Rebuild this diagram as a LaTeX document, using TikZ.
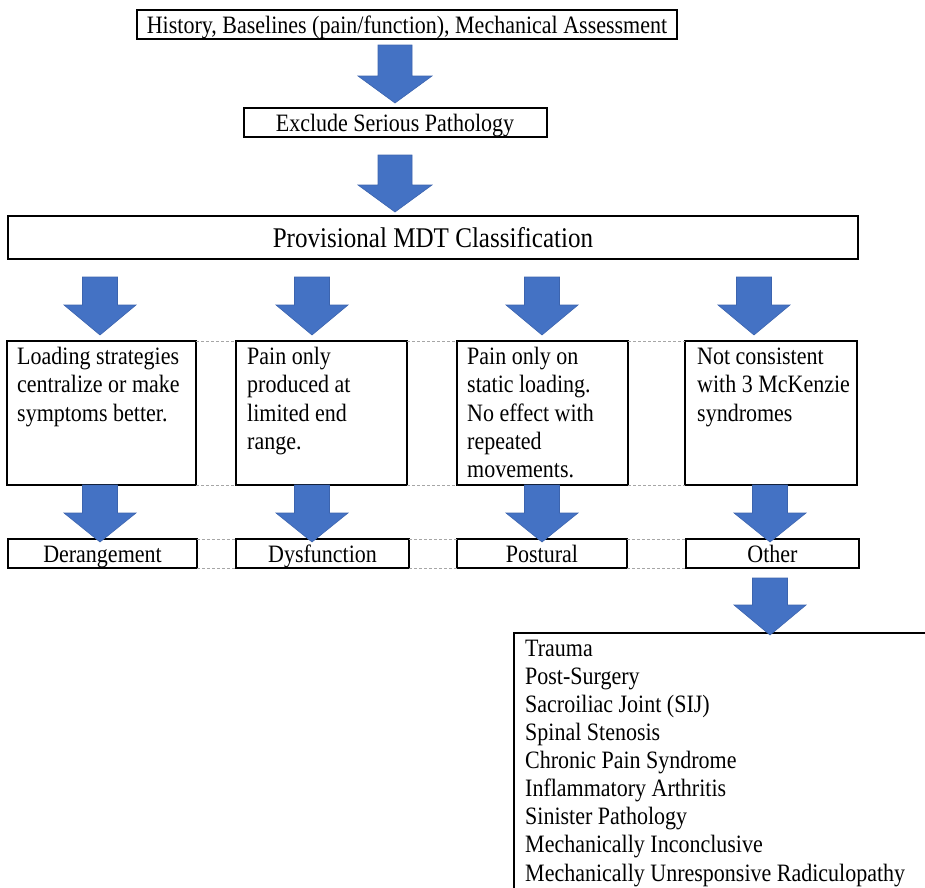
\documentclass[tikz,border=0pt]{standalone}
\usepackage{fontspec}
\setmainfont{Liberation Serif}[FakeStretch=0.88]
\definecolor{arrowblue}{HTML}{4472C4}
\definecolor{arrowedge}{HTML}{3C64AE}
\definecolor{dotgray}{HTML}{A6A6A6}
\newcommand\blockarr[6]{% cx, ytop, yhead, ytip, shaft half, head half
  \path[blockarrow] ({#1-#5},#2) -- ({#1+#5},#2) -- ({#1+#5},#3) -- ({#1+#6},#3)
    -- (#1,#4) -- ({#1-#6},#3) -- ({#1-#5},#3) -- cycle;}
\newcommand\firststrut{\rule{0pt}{18pt}}
\tikzset{
  box/.style={draw=black, line width=1.5pt, inner sep=0pt, outer sep=0pt, anchor=north west},
  txt/.style={inner sep=0pt, anchor=north west, align=left, font=\fontsize{25}{28.4}\selectfont},
  lst/.style={inner sep=0pt, anchor=north west, align=left, font=\fontsize{25}{28.1}\selectfont},
  lbl/.style={inner sep=0pt, anchor=base, font=\fontsize{25}{28.4}\selectfont},
  ttl/.style={inner sep=0pt, anchor=base, font=\fontsize{28.5}{32}\selectfont},
  sepline/.style={draw=dotgray, dash pattern=on 3pt off 2pt, line width=1pt},
  blockarrow/.style={fill=arrowblue, draw=arrowedge, line width=0.6pt, line join=miter}
}
\begin{document}
\begin{tikzpicture}[x=1pt,y=-1pt]
\useasboundingbox (0,0) rectangle (925,887);
\clip (0,0) rectangle (925,887);

% top boxes
\node[box, minimum width=540pt, minimum height=29pt] (hist) at (137,10) {};
\node[lbl] (histt) at (407,33) {History, Baselines (pain/function), Mechanical Assessment};
\node[box, minimum width=303pt, minimum height=29pt] (excl) at (244,108) {};
\node[lbl] (exclt) at (395,131) {Exclude Serious Pathology};
\node[box, minimum width=850pt, minimum height=43pt] (prov) at (8,216) {};
\node[ttl] (provt) at (433,247) {Provisional MDT Classification};

% description boxes
\node[box, minimum width=189pt, minimum height=144pt] (b1) at (7,341) {};
\node[box, minimum width=171pt, minimum height=144pt] (b2) at (236,341) {};
\node[box, minimum width=171pt, minimum height=144pt] (b3) at (457,341) {};
\node[box, minimum width=172pt, minimum height=144pt] (b4) at (685,341) {};
\node[txt] (b1t) at (17,346) {\firststrut Loading strategies\\centralize or make\\symptoms better.};
\node[txt] (b2t) at (247,346) {\firststrut Pain only\\produced at\\limited end\\range.};
\node[txt] (b3t) at (467,346) {\firststrut Pain only on\\static loading.\\No effect with\\repeated\\movements.};
\node[txt] (b4t) at (697,346) {\firststrut Not consistent\\with 3 McKenzie\\syndromes};

% label boxes
\node[box, minimum width=189pt, minimum height=29pt] (l1) at (8,539) {};
\node[box, minimum width=173pt, minimum height=29pt] (l2) at (236,539) {};
\node[box, minimum width=170pt, minimum height=29pt] (l3) at (457,539) {};
\node[box, minimum width=173pt, minimum height=29pt] (l4) at (686,539) {};
\node[lbl] (l1t) at (102.5,562) {Derangement};
\node[lbl] (l2t) at (322.5,562) {Dysfunction};
\node[lbl] (l3t) at (542,562) {Postural};
\node[lbl] (l4t) at (772.5,562) {Other};

% dashed guide lines
\draw[sepline] (b1.north east) -- (b2.north west) (b2.north east) -- (b3.north west) (b3.north east) -- (b4.north west);
\draw[sepline] (b1.south east) -- (b2.south west) (b2.south east) -- (b3.south west) (b3.south east) -- (b4.south west);
\draw[sepline] (l1.north east) -- (l2.north west) (l2.north east) -- (l3.north west) (l3.north east) -- (l4.north west);
\draw[sepline] (l1.south east) -- (l2.south west) (l2.south east) -- (l3.south west) (l3.south east) -- (l4.south west);

% list box (runs past the right and bottom edges)
\node[box, minimum width=430pt, minimum height=270pt] (list) at (514,633) {};
\node[lst] (listt) at (525,638) {\firststrut Trauma\\Post-Surgery\\Sacroiliac Joint (SIJ)\\Spinal Stenosis\\Chronic Pain Syndrome\\Inflammatory Arthritis\\Sinister Pathology\\Mechanically Inconclusive\\Mechanically Unresponsive Radiculopathy};

% block arrows
\blockarr{395}{45}{76}{103}{17}{37}
\blockarr{395}{155}{185}{212}{17}{37}
\blockarr{100}{277}{305}{335}{17.5}{36}
\blockarr{312}{277}{305}{335}{17.5}{36}
\blockarr{542}{277}{305}{335}{17.5}{36}
\blockarr{754}{277}{305}{335}{17.5}{36}
\blockarr{100}{485}{513}{542}{17.5}{36}
\blockarr{312}{485}{513}{542}{17.5}{36}
\blockarr{542}{485}{513}{542}{17.5}{36}
\blockarr{770}{485}{513}{542}{17.5}{36}
\blockarr{770}{578}{605}{635}{17.5}{36}
\end{tikzpicture}
\end{document}
